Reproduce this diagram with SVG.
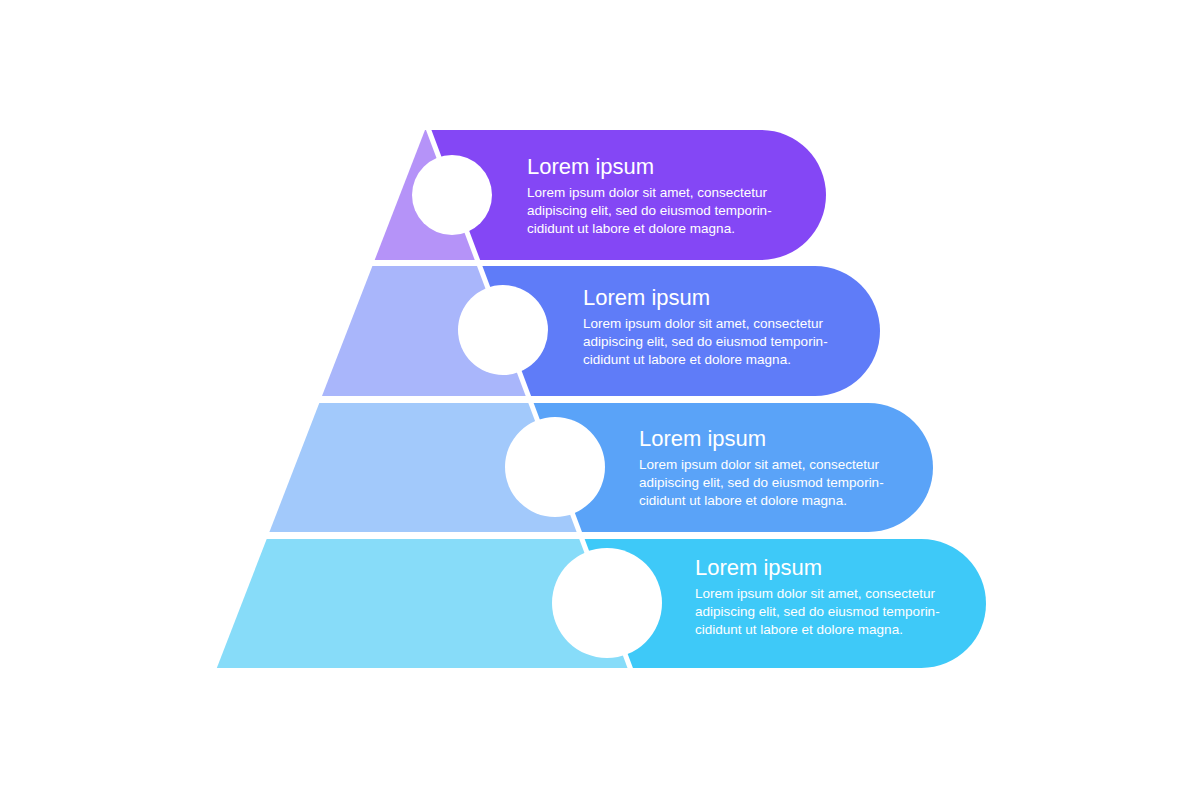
<svg xmlns="http://www.w3.org/2000/svg" width="1200" height="799" viewBox="0 0 1200 799">
<style>
.t{font-family:"Liberation Sans",Arial,sans-serif;fill:#fff}
.h{font-size:22px}
.b{font-size:13.5px}
.c{fill:#fff}
</style>
<rect width="1200" height="799" fill="#fff"/>
<g id="layer1">
<polygon points="425,130 428,130 476.8,260 374.7,260" fill="#b593f8"/>
<path d="M428,130 H761 A65,65 0 0 1 761,260 H476.8 Z" fill="#8447f5"/>
</g>
<g id="layer2">
<polygon points="372.4,266 479,266 527.9,396 322,396" fill="#a9b6fb"/>
<path d="M479,266 H815 A65,65 0 0 1 815,396 H527.9 Z" fill="#5f7cf8"/>
</g>
<g id="layer3">
<polygon points="319.3,403 530.5,403 578.9,532 269.4,532" fill="#a2c9fb"/>
<path d="M530.5,403 H868.5 A64.5,64.5 0 0 1 868.5,532 H578.9 Z" fill="#5aa3f8"/>
</g>
<g id="layer4">
<polygon points="266.7,539 581.6,539 630,668 216.8,668" fill="#87dcf9"/>
<path d="M581.6,539 H921.5 A64.5,64.5 0 0 1 921.5,668 H630 Z" fill="#3ec9f8"/>
</g>
<g id="connectors">
<line x1="428" y1="128" x2="631" y2="670" stroke="#fff" stroke-width="5"/>
</g>
<g id="circles">
<circle class="c" cx="452" cy="195" r="40"/>
<circle class="c" cx="503" cy="330" r="45"/>
<circle class="c" cx="555" cy="467" r="50"/>
<circle class="c" cx="607" cy="603" r="55"/>
</g>
<g id="text1" class="t">
<text class="h" x="527" y="174">Lorem ipsum</text>
<text class="b" x="527" y="197">Lorem ipsum dolor sit amet, consectetur</text>
<text class="b" x="527" y="215">adipiscing elit, sed do eiusmod temporin-</text>
<text class="b" x="527" y="233">cididunt ut labore et dolore magna.</text>
</g>
<g id="text2" class="t">
<text class="h" x="583" y="305">Lorem ipsum</text>
<text class="b" x="583" y="328">Lorem ipsum dolor sit amet, consectetur</text>
<text class="b" x="583" y="346">adipiscing elit, sed do eiusmod temporin-</text>
<text class="b" x="583" y="364">cididunt ut labore et dolore magna.</text>
</g>
<g id="text3" class="t">
<text class="h" x="639" y="446">Lorem ipsum</text>
<text class="b" x="639" y="469">Lorem ipsum dolor sit amet, consectetur</text>
<text class="b" x="639" y="487">adipiscing elit, sed do eiusmod temporin-</text>
<text class="b" x="639" y="505">cididunt ut labore et dolore magna.</text>
</g>
<g id="text4" class="t">
<text class="h" x="695" y="575">Lorem ipsum</text>
<text class="b" x="695" y="598">Lorem ipsum dolor sit amet, consectetur</text>
<text class="b" x="695" y="616">adipiscing elit, sed do eiusmod temporin-</text>
<text class="b" x="695" y="634">cididunt ut labore et dolore magna.</text>
</g>
</svg>
